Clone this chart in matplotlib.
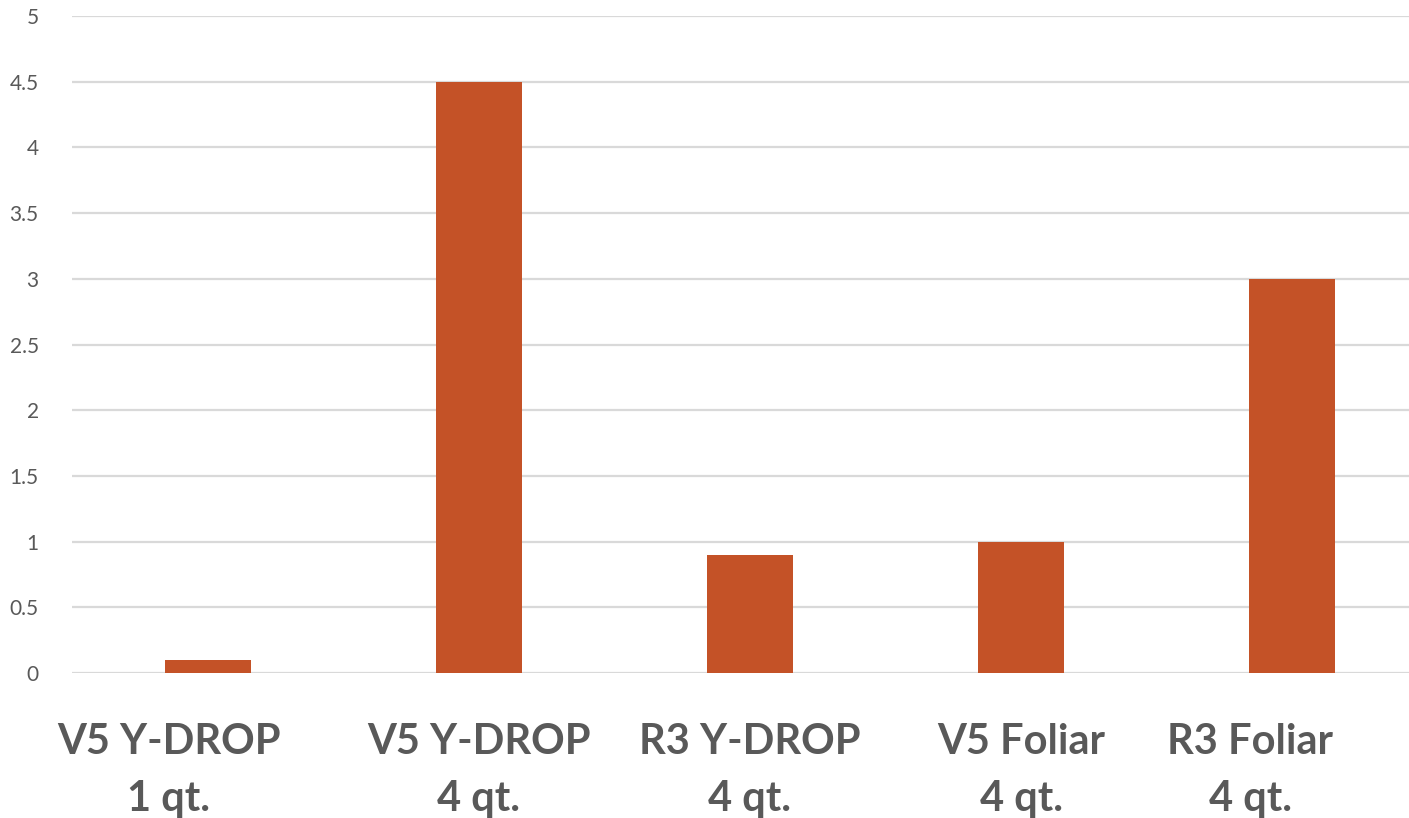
import matplotlib
matplotlib.use("Agg")
import matplotlib.pyplot as plt
from matplotlib.transforms import ScaledTranslation

categories = ["V5 Y-DROP\n1 qt.", "V5 Y-DROP\n4 qt.", "R3 Y-DROP\n4 qt.",
              "V5 Foliar\n4 qt.", "R3 Foliar\n4 qt."]
values = [0.1, 4.5, 0.9, 1.0, 3.0]
y_ticks = [0, 0.5, 1, 1.5, 2, 2.5, 3, 3.5, 4, 4.5, 5]
y_tick_labels = ["0", "0.5", "1", "1.5", "2", "2.5", "3", "3.5", "4", "4.5", "5"]

W, H = 1409, 818
fig = plt.figure(figsize=(W / 100, H / 100), dpi=100)
# plot area: x from 72px to 1428px (extends past the right edge), y from 16px to 673px
ax = fig.add_axes([72 / W, (H - 673) / H, (1428 - 72) / W, (673 - 16) / H])

x = list(range(len(categories)))
ax.bar(x, values, width=0.317, color="#C45227", zorder=3)

ax.set_xlim(-0.5, 4.5)
ax.set_ylim(0, 5)
ax.set_yticks(y_ticks)
ax.set_yticklabels(y_tick_labels, fontsize=15, color="#595959", family="Lato")
ax.yaxis.grid(True, color="#D9D9D9", linewidth=1.6, zorder=0)
ax.set_axisbelow(True)

ax.set_xticks(x)
ax.set_xticklabels(categories, fontsize=30, fontweight="bold", color="#595959",
                   family="Lato", linespacing=1.6)

for s in ax.spines.values():
    s.set_visible(False)
ax.tick_params(axis="y", length=0, pad=24)
ax.tick_params(axis="x", length=0, pad=36)

# the outermost category labels sit nudged to the left
ticks = ax.xaxis.get_major_ticks()
for tick, dx in ((ticks[0], -39), (ticks[-1], -42)):
    lbl = tick.label1
    lbl.set_transform(lbl.get_transform() + ScaledTranslation(dx / 100, 0, fig.dpi_scale_trans))

fig.savefig("out.png", dpi=100)
